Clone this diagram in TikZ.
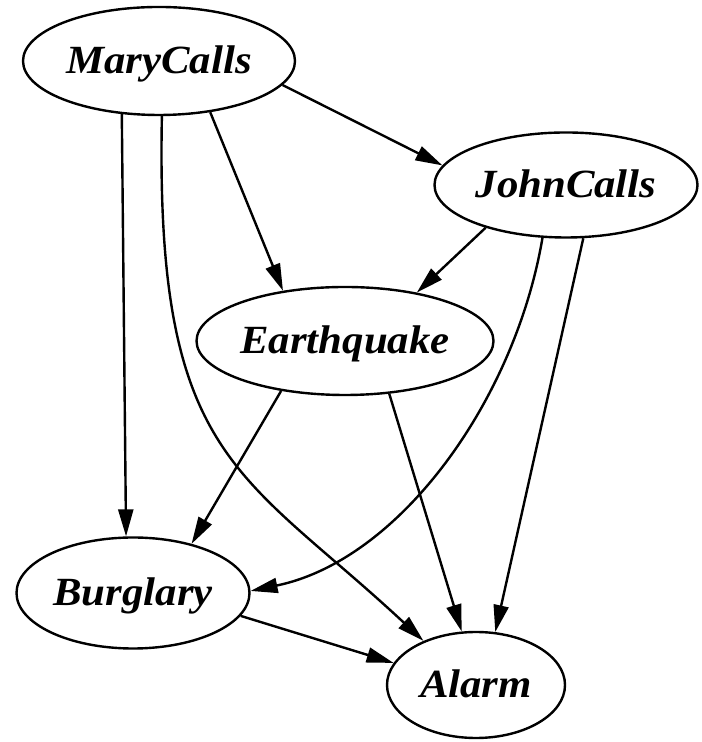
\documentclass[tikz,border=0pt]{standalone}
\usepackage{fontspec}
\newfontfamily\nodefont[FakeStretch=1.07]{Liberation Serif}
\usetikzlibrary{shapes.geometric, arrows.meta}

\begin{document}
\begin{tikzpicture}[x=0.5pt, y=0.5pt,
    var/.style={draw, ellipse, line width=1.2pt, inner sep=0pt,
        font=\nodefont\bfseries\itshape\fontsize{20}{22}\selectfont,
        text height=13pt, text depth=0pt},
    edge/.style={line width=1.2pt, -{Triangle[length=13.5pt, width=7.5pt]}}
]

    % Bounding box
    \useasboundingbox (0,0) rectangle (701,742);

    % Variables
    \node[var, minimum width=136pt, minimum height=54pt] (mary) at (159,681) {MaryCalls};
    \node[var, minimum width=131.5pt, minimum height=52.5pt] (john) at (566,557) {JohnCalls};
    \node[var, minimum width=148.5pt, minimum height=54pt] (quake) at (345,401) {Earthquake};
    \node[var, minimum width=116.5pt, minimum height=55.5pt] (burg) at (133,149) {Burglary};
    \node[var, minimum width=89pt, minimum height=53pt] (alarm) at (476,57) {Alarm};

    % Edges out of MaryCalls
    \draw[edge] (mary.349) -- (john.171);
    \draw[edge] (mary.315) -- (quake.141);
    \draw[edge] (mary.235) -- (burg.97);
    \draw[edge] (mary.273) .. controls (155,282) and (240,272) .. (alarm.140);

    % Edges out of JohnCalls
    \draw[edge] (john.208) -- (quake.34);
    \draw[edge] (john.246) .. controls (515,342) and (400,182) .. (burg.1);
    \draw[edge] (john.288) -- (alarm.70);

    % Edges out of Earthquake and Burglary
    \draw[edge] (quake.218) -- (burg.40);
    \draw[edge] (quake.310) -- (alarm.105);
    \draw[edge] (burg.348) -- (alarm.165);

\end{tikzpicture}
\end{document}
